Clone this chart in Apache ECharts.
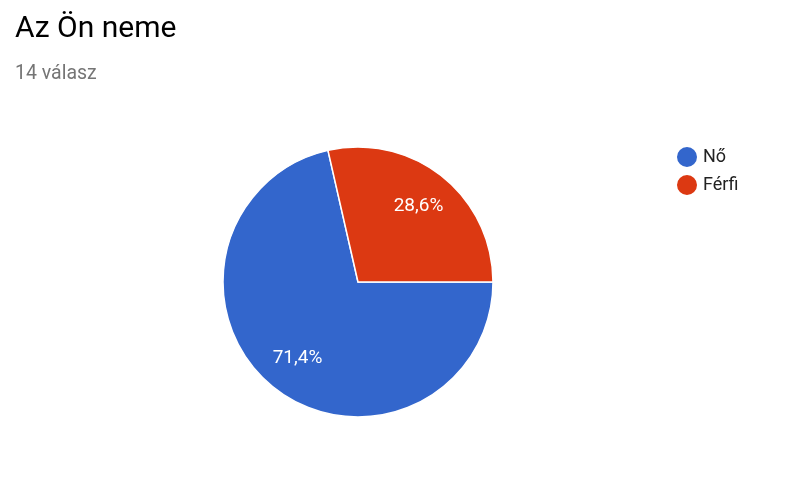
<!DOCTYPE html>
<html><head><meta charset="utf-8">
<script src="https://cdn.jsdelivr.net/npm/echarts@6/dist/echarts.min.js"></script>
<style>html,body{margin:0;padding:0;background:#fff}#c{width:793px;height:478px}</style>
</head><body><div id="c"></div>
<script>
var categories = ["Nő", "Férfi"];
var values = [10, 4];
var colors = ["#3366cc", "#dc3912"];
var title = "Az Ön neme";
var subtitle = "14 válasz";

function pct(p) { return p.percent.toFixed(1).replace('.', ',') + '%'; }

var chart = echarts.init(document.getElementById('c'));
chart.setOption({
  animation: false,
  title: {
    text: title, subtext: subtitle, left: 15, top: 14, itemGap: 20, padding: 0,
    textStyle: {fontFamily: 'Roboto', fontSize: 30, fontWeight: 'normal', color: '#000'},
    subtextStyle: {fontFamily: 'Roboto', fontSize: 19.5, color: '#757575'}
  },
  legend: {
    orient: 'vertical', left: 675, top: 145, itemWidth: 22, itemHeight: 22, itemGap: 4, padding: 0,
    icon: 'circle',
    textStyle: {fontFamily: 'Roboto', fontSize: 18, color: '#222'},
    data: categories
  },
  series: [{
    type: 'pie',
    center: [358, 282],
    radius: [0, 135],
    startAngle: 0,
    clockwise: true,
    label: {show: false},
    labelLine: {show: false},
    itemStyle: {borderColor: '#fff', borderWidth: 1.5},
    emphasis: {disabled: true},
    data: categories.map(function (c, i) {
      return {name: c, value: values[i], itemStyle: {color: colors[i]}};
    })
  }, {
    type: 'pie',
    center: [358, 282],
    radius: [0, 188],
    startAngle: 0,
    clockwise: true,
    silent: true,
    z: 3,
    label: {
      position: 'inside', color: '#fff', fontFamily: 'Roboto', fontSize: 19,
      formatter: pct
    },
    labelLine: {show: false},
    itemStyle: {color: 'rgba(0,0,0,0)', borderWidth: 0},
    emphasis: {disabled: true},
    data: categories.map(function (c, i) {
      return {name: c, value: values[i], itemStyle: {color: 'rgba(0,0,0,0)'}};
    })
  }]
});
</script></body></html>
